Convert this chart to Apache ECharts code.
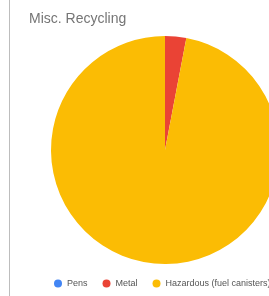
<!DOCTYPE html>
<html><head><meta charset="utf-8">
<style>html,body{margin:0;padding:0;overflow:hidden;background:#fff;width:269px;height:296px}#c{width:360px;height:296px}</style>
<script src="https://cdn.jsdelivr.net/npm/echarts@6/dist/echarts.min.js"></script>
</head><body><div id="c"></div>
<script>
const categories = ["Pens", "Metal", "Hazardous (fuel canisters)"];
const values = [0, 3, 97];
const colors = ["#4285F4", "#EA4335", "#FBBC04"];
const chart = echarts.init(document.getElementById('c'), null, {renderer: 'canvas'});
chart.setOption({
  animation: false,
  title: {text: "Misc. Recycling", left: 24, top: 7, textStyle: {fontFamily: "Liberation Sans", fontSize: 14, fontWeight: 'normal', color: '#757575'}},
  graphic: [{type: 'line', shape: {x1: 9.5, y1: 0, x2: 9.5, y2: 296}, style: {stroke: '#bdbdbd', lineWidth: 1}}],
  legend: {
    orient: 'horizontal', left: 49, top: 274, icon: 'circle', itemWidth: 8, itemHeight: 8, itemGap: 15,
    textStyle: {fontFamily: "Liberation Sans", fontSize: 9, color: '#555'},
    data: categories
  },
  series: [{
    type: 'pie', center: [165, 150], radius: [0, 114], startAngle: 90, clockwise: true,
    label: {show: false}, labelLine: {show: false}, silent: true,
    itemStyle: {borderWidth: 0},
    data: categories.map((n, i) => ({name: n, value: values[i], itemStyle: {color: colors[i]}}))
  }]
});
</script></body></html>
